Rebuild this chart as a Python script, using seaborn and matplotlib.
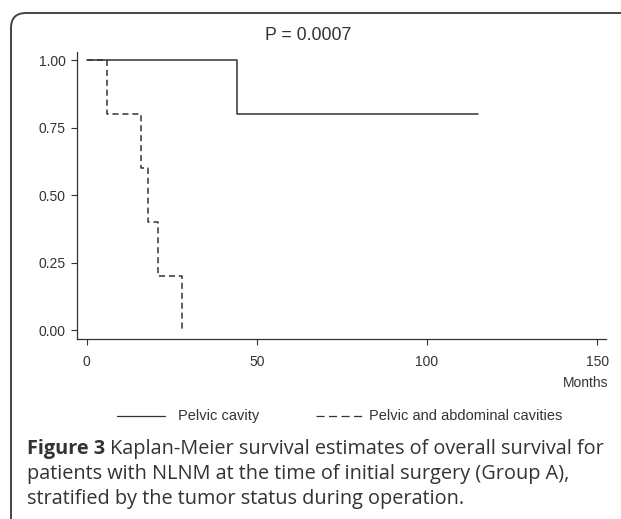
import matplotlib
matplotlib.use("Agg")
import matplotlib.pyplot as plt
from matplotlib.patches import FancyBboxPatch
from matplotlib.lines import Line2D
import seaborn as sns
import pandas as pd

# survival curves (months, survival)
pelvic_t = [0, 44, 115]
pelvic_s = [1.0, 0.8, 0.8]
abd_t = [0, 6, 16, 18, 21, 28]
abd_s = [1.0, 0.8, 0.6, 0.4, 0.2, 0.0]
groups = ["Pelvic cavity", "Pelvic and abdominal cavities"]
xticks = [0, 50, 100, 150]
yticks = [0.0, 0.25, 0.5, 0.75, 1.0]
ylabels = ["0.00", "0.25", "0.50", "0.75", "1.00"]

df = pd.concat([
    pd.DataFrame({"t": pelvic_t, "s": pelvic_s, "g": groups[0]}),
    pd.DataFrame({"t": abd_t, "s": abd_s, "g": groups[1]}),
])

sns.set_style("ticks")
plt.rcParams["font.family"] = ["Liberation Sans", "DejaVu Sans"]
ink = "#333333"

fig = plt.figure(figsize=(6.21, 5.19), dpi=100)
ax = fig.add_axes([77 / 621, 1 - 339 / 519, (606 - 77) / 621, (339 - 52) / 519])

sns.lineplot(data=df, x="t", y="s", hue="g", style="g", ax=ax,
             palette={groups[0]: ink, groups[1]: ink},
             dashes={groups[0]: "", groups[1]: (4, 2.5)},
             drawstyle="steps-post", estimator=None, sort=False,
             legend=False, linewidth=1.1)

ax.set_xlim(-2.9, 152.6)
ax.set_ylim(-0.033, 1.03)
ax.set_xticks(xticks)
ax.set_yticks(yticks)
ax.set_yticklabels(ylabels)
ax.set_xlabel("")
ax.set_ylabel("")
for sp in ["top", "right"]:
    ax.spines[sp].set_visible(False)
for sp in ["left", "bottom"]:
    ax.spines[sp].set_color(ink)
    ax.spines[sp].set_linewidth(0.9)
ax.tick_params(direction="out", length=4, width=0.8, color=ink,
               labelcolor=ink, labelsize=10, pad=4)
ax.tick_params(axis="x", pad=7.5)

fig.text(308 / 621, 1 - 36 / 519, "P = 0.0007", ha="center", va="center",
         fontsize=12.8, color=ink)
fig.text(608 / 621, 1 - 383 / 519, "Months", ha="right", va="center",
         fontsize=10, color=ink)

# legend drawn below the axes
ly = 1 - 416 / 519
fig.add_artist(Line2D([117 / 621, 165 / 621], [ly, ly], color=ink, lw=0.9))
fig.text(178 / 621, ly, groups[0], ha="left", va="center", fontsize=10.5, color=ink)
fig.add_artist(Line2D([316 / 621, 363 / 621], [ly, ly], color=ink, lw=0.9,
                      dashes=(6.5, 3.5)))
fig.text(369 / 621, ly, groups[1], ha="left", va="center", fontsize=10.5, color=ink)

# caption
cap_font = ["Open Sans", "DejaVu Sans"]
cap_size = 14.3
cx = 27 / 621
lines_y = [449, 474, 499]
renderer = fig.canvas.get_renderer()
b = fig.text(cx, 1 - lines_y[0] / 519, "Figure 3", ha="left", va="center",
             fontsize=cap_size, fontweight="bold", family=cap_font, color=ink)
w = b.get_window_extent(renderer).width
fig.text(cx + (w + 5) / 621, 1 - lines_y[0] / 519,
         "Kaplan-Meier survival estimates of overall survival for",
         ha="left", va="center", fontsize=cap_size, family=cap_font, color=ink)
fig.text(cx, 1 - lines_y[1] / 519,
         "patients with NLNM at the time of initial surgery (Group A),",
         ha="left", va="center", fontsize=cap_size, family=cap_font, color=ink)
fig.text(cx, 1 - lines_y[2] / 519,
         "stratified by the tumor status during operation.",
         ha="left", va="center", fontsize=cap_size, family=cap_font, color=ink)

# rounded frame around the figure panel
frame = FancyBboxPatch((0.11, -0.5), 7.0, 5.06 + 0.5, transform=fig.dpi_scale_trans,
                       boxstyle="round,pad=0,rounding_size=0.15",
                       fill=False, edgecolor="#444444", lw=1.4, clip_on=False)
fig.add_artist(frame)

fig.savefig("out.png", dpi=100)
